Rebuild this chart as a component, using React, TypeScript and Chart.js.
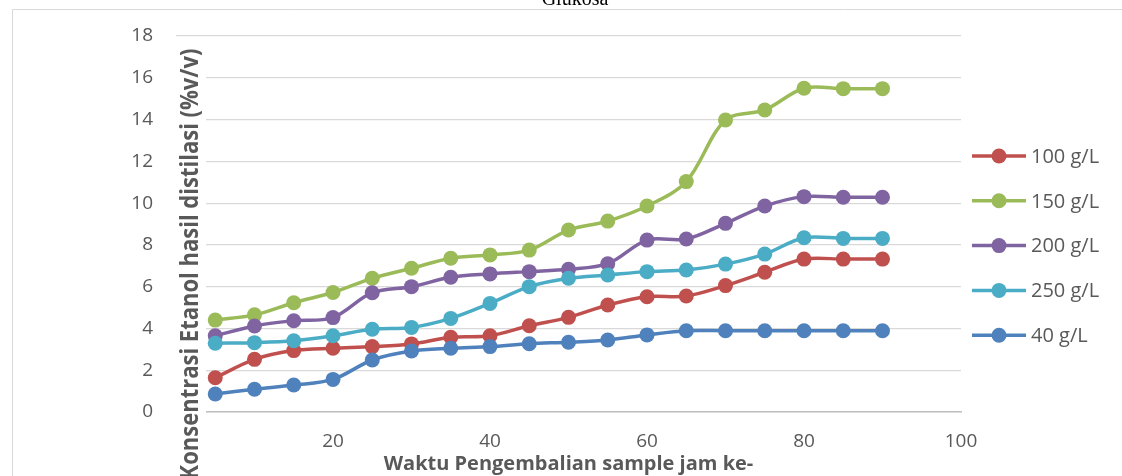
import React, { useEffect, useRef } from "react";
import { Chart, registerables } from "chart.js";

Chart.register(...registerables);

const hours = [5, 10, 15, 20, 25, 30, 35, 40, 45, 50, 55, 60, 65, 70, 75, 80, 85, 90];
const s100 = [1.64, 2.52, 2.94, 3.05, 3.13, 3.26, 3.58, 3.65, 4.13, 4.53, 5.12, 5.52, 5.55, 6.05, 6.69, 7.32, 7.32, 7.32];
const s150 = [4.4, 4.65, 5.23, 5.72, 6.4, 6.88, 7.36, 7.52, 7.75, 8.71, 9.14, 9.86, 11.03, 13.98, 14.46, 15.5, 15.48, 15.48];
const s200 = [3.65, 4.12, 4.37, 4.52, 5.71, 6.0, 6.45, 6.61, 6.72, 6.83, 7.1, 8.23, 8.28, 9.03, 9.86, 10.31, 10.28, 10.28];
const s250 = [3.29, 3.32, 3.41, 3.65, 3.96, 4.05, 4.48, 5.2, 6.0, 6.4, 6.56, 6.72, 6.8, 7.08, 7.56, 8.34, 8.31, 8.31];
const s40 = [0.86, 1.09, 1.29, 1.56, 2.49, 2.92, 3.05, 3.13, 3.27, 3.34, 3.45, 3.69, 3.89, 3.89, 3.89, 3.89, 3.89, 3.89];

const seriesNames = ["100 g/L", "150 g/L", "200 g/L", "250 g/L", "40 g/L"];
const seriesValues = [s100, s150, s200, s250, s40];
const seriesColors = ["#C0504D", "#9BBB59", "#8064A2", "#4BACC6", "#4F81BD"];

const chartTitle = "Glukosa";
const xTitle = "Waktu Pengembalian sample jam ke-";
const yTitle = "Konsentrasi Etanol hasil distilasi (%v/v)";

const FONT = "'Open Sans', sans-serif";
const TEXT = "#595959";

export default function App() {
  const ref = useRef<HTMLCanvasElement | null>(null);

  useEffect(() => {
    if (!ref.current) return;

    const decor = {
      id: "decor",
      beforeDraw(chart: any) {
        const ctx = chart.ctx;
        ctx.save();
        ctx.fillStyle = "#ffffff";
        ctx.fillRect(0, 0, chart.width, chart.height);
        ctx.strokeStyle = "#D9D9D9";
        ctx.lineWidth = 1;
        ctx.beginPath();
        ctx.moveTo(12.5, 9.5);
        ctx.lineTo(12.5, chart.height);
        ctx.moveTo(12.5, 9.5);
        ctx.lineTo(chart.width, 9.5);
        ctx.stroke();
        ctx.fillStyle = "#000000";
        ctx.font = "20px 'Liberation Serif', serif";
        ctx.textAlign = "center";
        ctx.textBaseline = "alphabetic";
        ctx.fillText(chartTitle, 575, 5);
        ctx.restore();
      },
      afterDraw(chart: any) {
        const ctx = chart.ctx;
        const area = chart.chartArea;
        ctx.save();
        // y-axis title box (overlaps plot edge as in the original)
        ctx.fillStyle = "#ffffff";
        ctx.fillRect(area.left - 1, 44, 31, chart.height - 44);
        ctx.translate(191, 264);
        ctx.rotate(-Math.PI / 2);
        ctx.scale(1, 1.1);
        ctx.fillStyle = TEXT;
        ctx.font = "bold 22px " + FONT;
        ctx.textAlign = "center";
        ctx.textBaseline = "middle";
        ctx.fillText(yTitle, 0, 0);
        ctx.restore();

        // legend
        ctx.save();
        seriesNames.forEach((name, i) => {
          const y = 156 + i * 44.8;
          ctx.strokeStyle = seriesColors[i];
          ctx.lineWidth = 3.5;
          ctx.beginPath();
          ctx.moveTo(972, y);
          ctx.lineTo(1026, y);
          ctx.stroke();
          ctx.fillStyle = seriesColors[i];
          ctx.beginPath();
          ctx.arc(999, y, 7.5, 0, Math.PI * 2);
          ctx.fill();
          ctx.fillStyle = TEXT;
          ctx.font = "20px " + FONT;
          ctx.textAlign = "left";
          ctx.textBaseline = "middle";
          ctx.fillText(name, 1031, y + 1);
        });
        ctx.restore();
      },
    };

    const datasets = seriesNames.map((name, i) => ({
      label: name,
      data: hours.map((h, j) => ({ x: h, y: seriesValues[i][j] })),
      borderColor: seriesColors[i],
      backgroundColor: seriesColors[i],
      borderWidth: 3.5,
      pointRadius: 7.5,
      pointHoverRadius: 7.5,
      pointBorderWidth: 0,
      tension: 0.33,
      order: 5 - i,
    }));

    const chart = new Chart(ref.current, {
      type: "line",
      data: { datasets },
      options: {
        animation: false,
        responsive: false,
        events: [],
        layout: { padding: { left: 0, right: 161, top: 36, bottom: 0 } },
        plugins: {
          legend: { display: false },
          title: { display: false },
          tooltip: { enabled: false },
        },
        scales: {
          x: {
            type: "linear",
            min: 0,
            max: 100,
            ticks: {
              stepSize: 20,
              color: TEXT,
              font: { family: FONT, size: 19 },
              padding: 18,
              maxRotation: 0,
              callback: (v: any) => (v === 0 ? "" : String(v)),
            },
            grid: { display: false, drawTicks: false },
            border: { display: true, color: "#BFBFBF", width: 1.5 },
            title: {
              display: true,
              text: xTitle,
              color: TEXT,
              font: { family: FONT, size: 20, weight: "bold" },
              padding: { top: 0, bottom: 0 },
            },
            afterFit: (scale: any) => {
              scale.height = 64;
            },
          },
          y: {
            min: 0,
            max: 18,
            ticks: {
              stepSize: 2,
              color: TEXT,
              font: { family: FONT, size: 19 },
              padding: 23,
            },
            grid: { color: "#D9D9D9", lineWidth: 1.2, drawTicks: false },
            border: { display: false },
            afterFit: (scale: any) => {
              scale.width = 176;
            },
          },
        },
      },
      plugins: [decor],
    } as any);

    return () => chart.destroy();
  }, []);

  return (
    <div style={{ position: "fixed", left: 0, top: 0, width: 1122, height: 476, background: "#fff" }}>
      <canvas ref={ref} width={1122} height={476} style={{ display: "block", width: 1122, height: 476 }} />
    </div>
  );
}
